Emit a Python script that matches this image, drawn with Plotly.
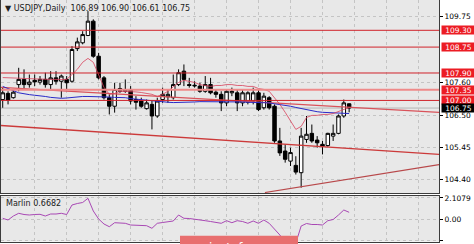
import plotly.graph_objects as go

# ---------------- data ----------------
idx = list(range(66))
opens = [107.03, 107.23, 107.09, 107.52, 107.69, 107.52, 107.66, 107.60, 107.69, 107.52,
         107.74, 107.63, 107.69, 107.63, 108.70, 108.89, 109.13, 109.60, 108.45, 107.74,
         107.09, 106.81, 107.39, 107.30, 107.36, 107.03, 106.98, 106.73, 106.87, 106.49,
         107.03, 107.12, 107.09, 107.52, 107.96, 107.52, 107.50, 107.47, 107.30, 107.52,
         107.27, 107.20, 106.92, 107.25, 107.25, 106.92, 106.94, 106.98, 107.25, 106.76,
         107.09, 106.81, 105.67, 105.34, 105.01, 104.87, 104.63, 105.72, 105.92, 105.70,
         105.56, 105.52, 105.83, 105.92, 106.49, 106.89]
highs = [107.42, 107.30, 107.36, 108.07, 108.02, 107.85, 107.85, 107.80, 107.91, 107.96,
         107.96, 107.85, 107.80, 108.78, 109.06, 109.27, 109.93, 109.66, 108.56, 107.80,
         107.20, 107.58, 107.58, 107.69, 107.47, 107.14, 107.09, 107.03, 106.98, 107.09,
         107.42, 107.36, 107.85, 108.02, 108.18, 107.74, 107.63, 107.58, 107.80, 107.74,
         107.36, 107.30, 107.36, 107.42, 107.36, 107.36, 107.30, 107.42, 107.36, 107.25,
         107.14, 106.87, 106.10, 105.56, 105.45, 105.17, 106.10, 106.49, 106.21, 105.83,
         105.67, 105.94, 106.21, 106.54, 107.03, 106.90]
lows = [106.76, 106.87, 107.06, 107.30, 107.36, 107.42, 107.47, 107.52, 107.42, 107.36,
        107.52, 107.09, 107.36, 107.58, 108.62, 108.84, 109.11, 108.40, 107.69, 107.03,
        106.54, 106.60, 107.25, 107.25, 106.87, 106.70, 106.76, 106.70, 106.05, 106.43,
        106.92, 106.92, 107.03, 107.47, 107.47, 107.42, 107.42, 107.25, 107.25, 107.20,
        107.09, 106.65, 106.81, 107.14, 106.65, 106.81, 106.87, 106.87, 106.65, 106.70,
        106.70, 105.61, 105.18, 104.96, 104.85, 104.57, 104.14, 105.61, 105.61, 105.45,
        105.23, 105.48, 105.67, 105.89, 106.43, 106.61]
closes = [107.25, 107.01, 107.27, 107.69, 107.52, 107.60, 107.61, 107.69, 107.52, 107.74,
          107.63, 107.80, 107.58, 108.67, 108.92, 109.16, 109.60, 108.45, 107.74, 107.09,
          106.81, 107.36, 107.30, 107.34, 106.98, 106.94, 106.81, 106.92, 106.49, 106.98,
          107.20, 107.20, 107.52, 107.91, 107.69, 107.49, 107.48, 107.30, 107.52, 107.25,
          107.20, 106.92, 107.30, 107.30, 106.92, 107.25, 107.25, 107.25, 106.70, 107.14,
          106.76, 105.67, 105.28, 105.07, 105.29, 104.65, 105.83, 105.89, 105.67, 105.61,
          105.50, 105.92, 105.92, 106.49, 106.92, 106.75]

ma_fast = [107.75, 107.75, 107.74, 107.73, 107.72, 107.71, 107.70, 107.70, 107.69, 107.69,
           107.69, 107.69, 107.69, 107.85, 108.02, 108.25, 108.38, 108.25, 107.85, 107.43,
           107.20, 107.23, 107.30, 107.30, 107.30, 107.28, 107.26, 107.24, 107.20, 107.13,
           107.20, 107.30, 107.43, 107.59, 107.66, 107.62, 107.59, 107.52, 107.49, 107.46,
           107.49, 107.49, 107.52, 107.52, 107.49, 107.49, 107.46, 107.46, 107.39, 107.36,
           107.30, 107.10, 106.87, 106.61, 106.31, 106.05, 106.15, 106.44, 106.51, 106.51,
           106.54, 106.54, 106.57, 106.64, 106.70, 106.77]
ma_slow = [107.46, 107.40, 107.32, 107.25, 107.21, 107.19, 107.17, 107.16, 107.13, 107.10,
           107.08, 107.07, 107.08, 107.10, 107.12, 107.13, 107.13, 107.13, 107.13, 107.12,
           107.11, 107.10, 107.10, 107.09, 107.06, 107.04, 107.03, 107.01, 106.99, 106.97,
           106.96, 106.94, 106.93, 106.93, 106.93, 106.94, 106.95, 106.96, 106.96, 106.97,
           106.97, 106.97, 106.96, 106.96, 106.95, 106.95, 106.94, 106.94, 106.93, 106.93,
           106.92, 106.89, 106.87, 106.85, 106.81, 106.77, 106.73, 106.69, 106.66, 106.63,
           106.61, 106.60, 106.58, 106.57, 106.57, 106.57]

marlin = [0.07, -0.10, 0.30, 0.57, 0.45, 0.40, 0.45, 0.47, 0.30, 0.50,
          0.50, 0.57, 0.45, 1.40, 1.55, 1.65, 2.07, 0.80, 0.00, -0.50,
          -0.77, -0.37, -0.40, -0.43, -0.60, -0.62, -0.65, -0.67, -0.93, -0.43,
          -0.35, -0.27, -0.20, 0.40, 0.07, 0.05, 0.00, -0.10, -0.17, -0.25,
          -0.35, -0.43, -0.17, -0.37, -0.17, -0.25, -0.43, -0.20, -0.43, -0.10,
          -0.43, -1.00, -1.60, -2.30, -2.60, -2.40, -0.70, -0.45, -0.55, -0.55,
          -0.60, -0.17, -0.05, 0.40, 0.90, 0.67]

# horizontal levels (price, colour, width)
level_prices = [109.30, 108.75, 107.90, 107.35, 107.00]
level_colors = ["#d0222a", "#d0222a", "#d0222a", "#ef8a8a", "#d0222a"]
level_widths = [1, 1, 1, 2, 1]
bid_price = 106.75

# trend lines: (x0, x1), (y0, y1)
trend_upper_x = [-0.5, 82.0]
trend_upper_y = [107.43, 106.61]
trend_lower_x = [-0.5, 82.0]
trend_lower_y = [106.18, 105.23]
trend_rise_x = [49.2, 82.0]
trend_rise_y = [103.98, 104.90]

y_ticks = [109.75, 107.60, 106.50, 105.45, 104.40]
y_tick_text = ["109.75", "107.60", "106.50", "105.45", "104.40"]
marlin_ticks = [2.1079, 0.0, -2.1019]
marlin_tick_text = ["2.1079", "0.00", "-2.1019"]
x_grid = list(range(6, 82, 6))

title_text = "▼ USDJPY,Daily  106.89 106.90 106.61 106.75"
marlin_label = "Marlin 0.6682"

# ---------------- figure ----------------
W, H = 474, 244
FONT = "DejaVu Sans"
xdom = [1 / W, 439 / W]
ydom_main = [(H - 193) / H, 1.0]
ydom_ind = [(H - 241.5) / H, (H - 196) / H]
xr = [-0.32, 81.86]
yr = [103.964, 110.294]

fig = go.Figure()

fig.add_trace(go.Scatter(x=trend_lower_x, y=trend_lower_y, mode="lines",
                         line=dict(color="#cc3a3a", width=1.3), hoverinfo="skip"))
fig.add_trace(go.Scatter(x=trend_rise_x, y=trend_rise_y, mode="lines",
                         line=dict(color="#b8484a", width=1.2), hoverinfo="skip"))
fig.add_trace(go.Scatter(x=trend_upper_x, y=trend_upper_y, mode="lines",
                         line=dict(color="#d9525a", width=1.3), hoverinfo="skip"))
fig.add_trace(go.Scatter(x=idx, y=ma_slow, mode="lines",
                         line=dict(color="#2a2ac8", width=1), hoverinfo="skip"))
fig.add_trace(go.Scatter(x=idx, y=ma_fast, mode="lines",
                         line=dict(color="#d8405a", width=0.8), hoverinfo="skip"))

fig.add_trace(go.Candlestick(
    x=idx, open=opens, high=highs, low=lows, close=closes,
    increasing=dict(line=dict(color="black", width=1), fillcolor="white"),
    decreasing=dict(line=dict(color="black", width=1), fillcolor="black"),
    whiskerwidth=0, hoverinfo="skip"))

fig.add_trace(go.Scatter(x=idx, y=marlin, mode="lines", xaxis="x2", yaxis="y2",
                         line=dict(color="#a848b4", width=1), hoverinfo="skip"))

# horizontal level lines drawn as data traces in the main panel
for p, c, w in zip(level_prices, level_colors, level_widths):
    fig.add_trace(go.Scatter(x=[xr[0], xr[1]], y=[p, p], mode="lines",
                             line=dict(color=c, width=w), hoverinfo="skip"))

shapes = []
shapes.append(dict(type="line", xref="paper", yref="y", x0=xdom[0], x1=xdom[1],
                   y0=bid_price, y1=bid_price, line=dict(color="#b4b4b4", width=1), layer="below"))
# watermark box
shapes.append(dict(type="rect", xref="paper", yref="paper", x0=180 / W, x1=298 / W,
                   y0=-0.01, y1=(H - 235.7) / H, fillcolor="#e86f6f",
                   line=dict(width=0), layer="above"))

annotations = [
    dict(text=title_text, xref="paper", yref="paper", x=3 / W, y=1 - 2 / H,
         xanchor="left", yanchor="top", showarrow=False,
         font=dict(family=FONT, size=8, color="#202020")),
    dict(text=marlin_label, xref="paper", yref="paper", x=4 / W, y=(H - 197) / H,
         xanchor="left", yanchor="top", showarrow=False,
         font=dict(family=FONT, size=8, color="#202020")),
    dict(text="instaforex", xref="paper", yref="paper", x=239 / W, y=(H - 238.5) / H,
         xanchor="center", yanchor="top", showarrow=False,
         font=dict(family=FONT, size=12, color="white")),
]
for p in level_prices:
    annotations.append(dict(text=f"{p:.2f}", xref="paper", yref="y", x=441 / W, y=p,
                            xanchor="left", yanchor="middle", showarrow=False,
                            bgcolor="#ec1c24", width=33, height=8, borderpad=0,
                            font=dict(family=FONT, size=7.5, color="white")))
annotations.append(dict(text=f"{bid_price:.2f}", xref="paper", yref="y", x=441 / W, y=bid_price,
                        xanchor="left", yanchor="middle", showarrow=False,
                        bgcolor="black", width=33, height=8, borderpad=0,
                        font=dict(family=FONT, size=7.5, color="white")))

axis_line = "#3c3c3c"
grid_col = "#c4c4c4"
fig.update_layout(
    width=W, height=H, margin=dict(l=0, r=0, t=0, b=0),
    paper_bgcolor="white", plot_bgcolor="#e8e8e8",
    showlegend=False, shapes=shapes, annotations=annotations,
    boxgap=0.35, boxgroupgap=0,
    xaxis=dict(domain=xdom, range=xr, anchor="y", tickvals=x_grid, showticklabels=False,
               showgrid=True, gridcolor=grid_col, griddash="dot", gridwidth=1,
               showline=True, mirror=True, linecolor=axis_line, linewidth=1,
               zeroline=False, rangeslider=dict(visible=False), ticks=""),
    yaxis=dict(domain=ydom_main, range=yr, side="right", anchor="x",
               tickvals=y_ticks, ticktext=y_tick_text, ticks="outside", ticklen=3,
               tickcolor="black", tickfont=dict(family=FONT, size=7.5, color="black"),
               showgrid=True, gridcolor=grid_col, griddash="dot",
               showline=True, mirror=True, linecolor=axis_line, linewidth=1,
               zeroline=False, automargin=False),
    xaxis2=dict(domain=xdom, range=xr, anchor="y2", matches="x", tickvals=x_grid,
                showticklabels=False, showgrid=True, gridcolor=grid_col, griddash="dot",
                showline=True, mirror=True, linecolor=axis_line, linewidth=1,
                zeroline=False, ticks=""),
    yaxis2=dict(domain=ydom_ind, range=[-2.25, 2.3], side="right", anchor="x2",
                tickvals=marlin_ticks, ticktext=marlin_tick_text, ticks="outside", ticklen=3,
                tickcolor="black", tickfont=dict(family=FONT, size=7.5, color="black"),
                showgrid=True, gridcolor=grid_col, griddash="dot",
                showline=True, mirror=True, linecolor=axis_line, linewidth=1,
                zeroline=False, automargin=False),
)

fig.write_html("out.html")
